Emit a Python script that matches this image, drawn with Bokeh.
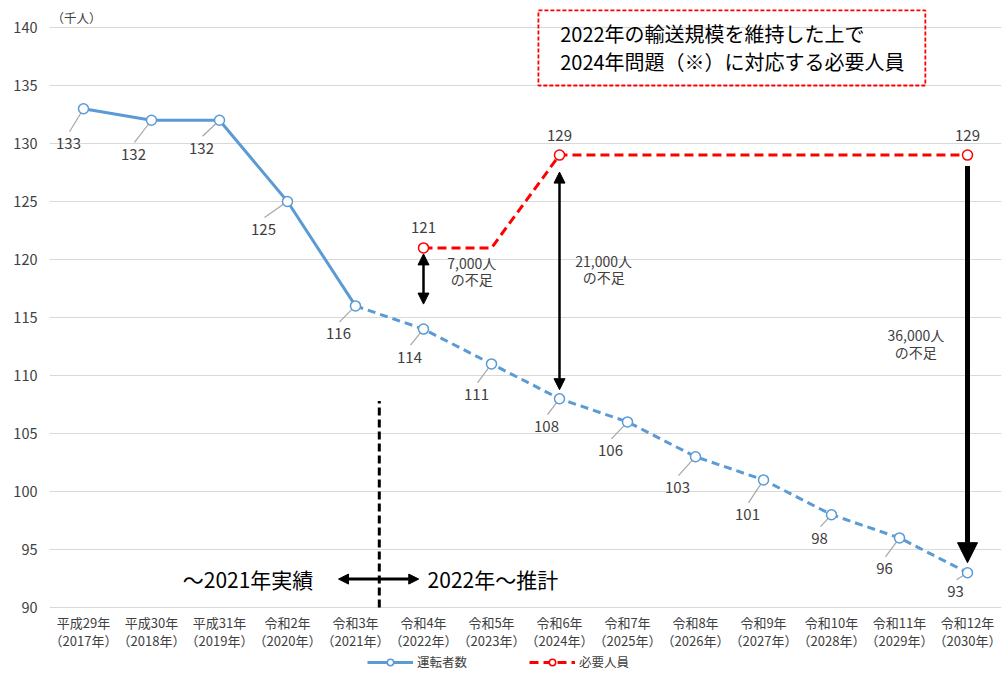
from bokeh.plotting import figure
from bokeh.models import (Range1d, FixedTicker, ColumnDataSource, Arrow, NormalHead,
                          Legend, LegendItem)
from bokeh.core.properties import value
from bokeh.embed import file_html
from bokeh.resources import INLINE

FONT = "Noto Sans CJK JP"
GREY_TEXT = "#404040"
BLUE = "#5B9BD5"
RED = "#FF0000"

# ---- data -------------------------------------------------------------
years = [2017, 2018, 2019, 2020, 2021, 2022, 2023, 2024, 2025, 2026, 2027, 2028, 2029, 2030]
era_labels = ["平成29年", "平成30年", "平成31年", "令和2年", "令和3年", "令和4年", "令和5年",
              "令和6年", "令和7年", "令和8年", "令和9年", "令和10年", "令和11年", "令和12年"]
year_labels = [f"（{y}年）" for y in years]
drivers = [133, 132, 132, 125, 116, 114, 111, 108, 106, 103, 101, 98, 96, 93]

req_years = [2022, 2023, 2024, 2025, 2026, 2027, 2028, 2029, 2030]
required = [121, 121, 129, 129, 129, 129, 129, 129, 129]
req_marked_years = [2022, 2024, 2030]

shortage_years = [2022, 2024, 2030]
shortage_labels = ["7,000人", "21,000人", "36,000人"]

last_actual_year = 2021
y_ticks = [90, 95, 100, 105, 110, 115, 120, 125, 130, 135, 140]

# ---- style: label offsets (px) for the driver data labels -------------
drv_label_dx = [-15, -18, -18, -24, -17, -14, -15, -13, -17, -18, -16, -12, -15, -12]
drv_label_dy = [35, 34, 28, 28, 28, 28, 31, 28, 29, 31, 35, 24, 31, 19]

# ---- figure geometry -------------------------------------------------
W, H = 1003, 673
BL, BR = 49, 2
FW = W - BL - BR
X0, X1 = 2016.5, 2030.5
PPY = 11.6                       # pixels per thousand people
Y_MIN, Y_MAX = y_ticks[0], y_ticks[-1]
Y0 = Y_MIN - 66 / PPY            # room below the value axis for category labels and legend
Y1 = Y_MAX + 27 / PPY
PPX = FW / (X1 - X0)

p = figure(width=W, height=H, output_backend="svg", toolbar_location=None,
           x_range=Range1d(X0, X1), y_range=Range1d(Y0, Y1), x_axis_location=None,
           min_border_left=BL, min_border_right=BR, min_border_top=0, min_border_bottom=0)
p.outline_line_color = None
p.background_fill_color = "white"
p.border_fill_color = "white"

# value axis
p.yaxis.ticker = FixedTicker(ticks=y_ticks)
p.yaxis.axis_line_color = None
p.yaxis.major_tick_line_color = None
p.yaxis.minor_tick_line_color = None
p.yaxis.major_tick_in = 0
p.yaxis.major_tick_out = 0
p.yaxis.major_label_text_font = FONT
p.yaxis.major_label_text_color = GREY_TEXT
p.yaxis.major_label_text_font_size = "14.5px"
p.yaxis.major_label_standoff = 12
p.xgrid.grid_line_color = None
p.ygrid.ticker = FixedTicker(ticks=y_ticks)
p.ygrid.grid_line_color = "#D9D9D9"
p.ygrid.grid_line_width = 1

# category labels under the plot area
p.text(x=years, y=[Y_MIN] * len(years), text=era_labels, y_offset=15, text_font=value(FONT),
       text_font_size="13px", text_color=GREY_TEXT, text_align="center", text_baseline="middle")
p.text(x=years, y=[Y_MIN] * len(years), text=year_labels, y_offset=33, text_font=value(FONT),
       text_font_size="13px", text_color=GREY_TEXT, text_align="center", text_baseline="middle")

# unit label
p.text(x=[X0 + 2 / PPX], y=[Y_MAX + 10 / PPY], text=["（千人）"], text_font=value(FONT),
       text_font_size="12.5px", text_color=GREY_TEXT, text_baseline="middle", text_align="left")

# ---- divider between actual and forecast -----------------------------
split_x = last_actual_year + 0.35
p.segment(x0=[split_x], y0=[Y_MIN], x1=[split_x], y1=[107.8], line_color="black",
          line_width=3, line_dash="8 4")
mid_y = 92.45
p.add_layout(Arrow(start=NormalHead(size=10, fill_color="black", line_color="black"),
                   end=NormalHead(size=10, fill_color="black", line_color="black"),
                   x_start=split_x - 0.6, y_start=mid_y, x_end=split_x + 0.58, y_end=mid_y,
                   line_width=3, line_color="black"))
p.text(x=[split_x - 0.97], y=[mid_y], text=[f"～{last_actual_year}年実績"], text_font=value(FONT),
       text_font_size="21px", text_color="black", text_baseline="middle", text_align="right")
p.text(x=[split_x + 0.71], y=[mid_y], text=[f"{last_actual_year + 1}年～推計"], text_font=value(FONT),
       text_font_size="21px", text_color="black", text_baseline="middle", text_align="left")

# ---- driver series -----------------------------------------------------
n_act = years.index(last_actual_year) + 1
blue_solid = p.line(years[:n_act], drivers[:n_act], line_color=BLUE, line_width=3)
blue_dash = p.line(years[n_act - 1:], drivers[n_act - 1:], line_color=BLUE, line_width=3,
                   line_dash="8 5")

# leader lines + labels
lx0, ly0, lx1, ly1 = [], [], [], []
for yr, v, dx, dy in zip(years, drivers, drv_label_dx, drv_label_dy):
    ex, ey = dx + 1, dy - 12          # leader end, just above the label
    length = (ex ** 2 + ey ** 2) ** 0.5
    if length > 9:
        sx, sy = ex * 5 / length, ey * 5 / length
        lx0.append(yr + sx / PPX); ly0.append(v - sy / PPY)
        lx1.append(yr + ex / PPX); ly1.append(v - ey / PPY)
p.segment(x0=lx0, y0=ly0, x1=lx1, y1=ly1, line_color="#A6A6A6", line_width=1.2)

blue_marks = p.scatter(years, drivers, size=10, marker="circle", fill_color="white",
                       line_color=BLUE, line_width=1.5)
lab_src = ColumnDataSource(dict(x=years, y=drivers, t=[str(v) for v in drivers],
                                dx=drv_label_dx, dy=drv_label_dy))
p.text(x="x", y="y", text="t", x_offset="dx", y_offset="dy", source=lab_src,
       text_font=value(FONT), text_font_size="15px", text_color=GREY_TEXT,
       text_align="center", text_baseline="middle")

# ---- required staff series -------------------------------------------
red_line = p.line(req_years, required, line_color=RED, line_width=3, line_dash="9 5")
req_marked_vals = [required[req_years.index(y)] for y in req_marked_years]
red_marks = p.scatter(req_marked_years, req_marked_vals, size=10, marker="circle",
                      fill_color="white", line_color=RED, line_width=1.5)
p.text(x=req_marked_years, y=req_marked_vals, text=[str(v) for v in req_marked_vals],
       y_offset=-20, text_font=value(FONT), text_font_size="15px", text_color=GREY_TEXT,
       text_align="center", text_baseline="middle")

# ---- shortage arrows -------------------------------------------------
top_gap = [6, 17, 11]        # px below the required marker
bot_gap = [25, 9, 10]        # px above the driver marker
widths = [2.5, 2.5, 5]
head_sz = [11, 11, 20]
double = [True, True, False]
for yr, tg, bg, lw, hs, dbl in zip(shortage_years, top_gap, bot_gap, widths, head_sz, double):
    r = required[req_years.index(yr)]
    d = drivers[years.index(yr)]
    start = NormalHead(size=hs, fill_color="black", line_color="black") if dbl else None
    p.add_layout(Arrow(start=start,
                       end=NormalHead(size=hs, fill_color="black", line_color="black"),
                       x_start=yr, y_start=r - tg / PPY, x_end=yr, y_end=d + bg / PPY,
                       line_width=lw, line_color="black"))

note_x = [2022.71, 2024.65, 2029.24]
note_y = [119.74, 119.91, 113.45]
p.text(x=note_x, y=note_y, text=shortage_labels, text_font=value(FONT), text_font_size="14px",
       text_color=GREY_TEXT, text_align="center", text_baseline="middle")
p.text(x=note_x, y=[v - 1.45 for v in note_y], text=["の不足"] * 3, text_font=value(FONT),
       text_font_size="14px", text_color=GREY_TEXT, text_align="center", text_baseline="middle")

# ---- explanatory box -------------------------------------------------
p.quad(left=[2023.69], right=[2029.38], top=[141.47], bottom=[135.0], fill_color=None,
       line_color=RED, line_width=1.8, line_dash="4 2")
p.text(x=[2024.01, 2024.01], y=[139.48, 137.07],
       text=["2022年の輸送規模を維持した上で", "2024年問題（※）に対応する必要人員"],
       text_font=value(FONT), text_font_size="20px", text_color="black",
       text_align="left", text_baseline="middle")

# ---- legend ------------------------------------------------------------
legend = Legend(items=[LegendItem(label="運転者数", renderers=[blue_solid, blue_marks]),
                       LegendItem(label="必要人員", renderers=[red_line, red_marks])],
                location=(318, 2), orientation="horizontal", spacing=62, padding=0, margin=0,
                glyph_width=46, glyph_height=16, label_height=16, label_standoff=4,
                label_text_font=FONT, label_text_font_size="12.5px", label_text_color=GREY_TEXT,
                border_line_color=None, background_fill_alpha=0)
p.add_layout(legend)

open("out.html", "w").write(file_html(p, INLINE))
